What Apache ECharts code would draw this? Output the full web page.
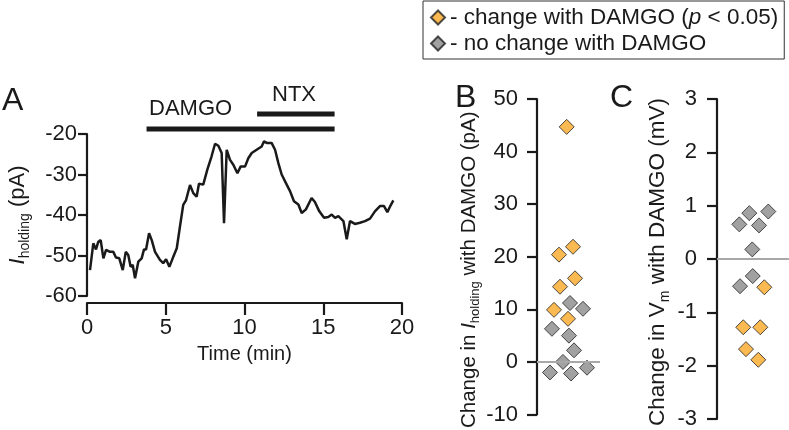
<!DOCTYPE html>
<html><head><meta charset="utf-8">
<script src="https://cdn.jsdelivr.net/npm/echarts@6/dist/echarts.min.js"></script>
<style>html,body{margin:0;padding:0;background:#fff}#c{width:789px;height:430px}</style>
</head><body><div id="c"></div>
<script>
// Panel A: holding current trace
const timeMin = [0.19,0.40,0.57,0.72,0.87,1.04,1.21,1.46,1.67,1.84,2.05,2.27,2.46,2.62,2.77,2.90,3.05,3.26,3.47,3.62,3.75,3.94,4.11,4.32,4.63,4.84,5.02,5.23,5.44,5.70,5.90,6.11,6.29,6.40,6.54,6.75,6.96,7.11,7.38,7.64,7.91,8.13,8.34,8.55,8.70,8.87,9.08,9.29,9.55,9.76,10.04,10.24,10.46,10.77,11.09,11.24,11.41,11.72,11.94,12.15,12.36,12.68,12.89,13.14,13.42,13.63,13.90,14.26,14.47,14.75,15.05,15.32,15.54,15.75,15.96,16.28,16.49,16.70,17.01,17.33,17.65,17.97,18.28,18.60,18.86,19.07,19.28,19.45];
const iHolding = [-53.6,-47.0,-48.5,-46.6,-46.2,-50.7,-48.6,-49.1,-49.1,-50.5,-50.7,-53.6,-49.1,-49.9,-52.8,-52.3,-55.6,-51.5,-50.7,-48.5,-48.5,-44.5,-46.2,-49.1,-51.1,-51.9,-50.9,-52.8,-50.7,-48.2,-42.9,-37.5,-36.3,-36.3,-32.6,-34.6,-35.5,-32.3,-32.5,-28.8,-25.5,-22.4,-22.9,-24.7,-42.0,-23.9,-26.4,-27.6,-29.7,-28.0,-28.0,-26.0,-24.7,-23.9,-23.1,-21.8,-22.2,-22.2,-23.9,-27.2,-30.0,-32.5,-34.1,-36.6,-37.4,-39.5,-38.6,-35.8,-36.8,-39.1,-40.7,-40.5,-39.9,-40.7,-40.3,-41.5,-46.0,-41.5,-42.2,-41.9,-41.5,-40.9,-39.1,-37.8,-37.8,-39.3,-37.6,-36.4];
const damgoPeriod = [3.78, 15.72];
const ntxPeriod = [10.8, 15.72];
const xTicksA = [0, 5, 10, 15, 20];
const yTicksA = [-60, -50, -40, -30, -20];

// Panel B: change in I_holding (pA); jitter = horizontal scatter offset
const bSigVal = [44.7, 20.4, 21.9, 14.3, 15.9, 9.9, 8.2];
const bSigJit = [-0.23, -1.21, 0.57, -1.08, 0.83, -1.84, -0.06];
const bNsVal = [11.2, 10.1, 6.3, 5.0, 2.2, 0.0, -2.0, -2.2, -1.1];
const bNsJit = [0.19, 1.84, -2.10, 0.06, 0.70, -0.70, -2.35, 0.32, 2.35];

// Panel C: change in Vm (mV)
const cSigVal = [-0.53, -1.28, -1.28, -1.69, -1.89];
const cSigJit = [1.26, -1.08, 0.81, -0.78, 0.59];
const cNsVal = [0.86, 0.89, 0.65, 0.63, 0.18, -0.32, -0.51];
const cNsJit = [-0.41, 1.70, -1.52, 0.67, -0.08, -0.03, -1.44];

const FONT = 'Liberation Sans, Arial, sans-serif';
const INK = '#1a1a1a';
const ORANGE = '#F9A825';
const GREY = '#8a8a8a';
const zip = (a, b) => a.map((v, i) => [v, b[i]]);

const chart = echarts.init(document.getElementById('c'), null, {renderer: 'canvas'});

const axisLine = {show: true, onZero: false, lineStyle: {color: INK, width: 2.2}};
const tick = (len) => ({show: true, length: len, lineStyle: {color: INK, width: 2.2}});
const lbl = (m) => ({margin: m, fontSize: 22, color: INK, fontFamily: FONT});
const nameStyle = (fs, sub, pad) => ({fontSize: fs, color: INK, fontFamily: FONT, lineHeight: fs + 6,
  padding: pad,
  rich: {
    i: {fontStyle: 'italic', fontSize: fs, lineHeight: fs + 6, fontFamily: FONT, color: INK},
    s: {fontSize: sub, lineHeight: sub, verticalAlign: 'bottom', fontFamily: FONT, color: INK}
  }});

const diamond = (color) => ({color: color, borderColor: '#222', borderWidth: 1});

const option = {
  animation: false,
  textStyle: {fontFamily: FONT},
  legend: {
    orient: 'vertical', left: 423, top: 1,
    padding: [5, 6, 4, 7], itemGap: 3, itemWidth: 14, itemHeight: 14,
    borderColor: '#333', borderWidth: 1,
    data: [{name: 'sig', icon: 'diamond'}, {name: 'ns', icon: 'diamond'}],
    formatter: (n) => n === 'sig' ? '- change with DAMGO ({i|p} < 0.05)' : '- no change with DAMGO',
    textStyle: {fontSize: 22.5, color: INK, fontFamily: FONT, lineHeight: 23,
      rich: {i: {fontStyle: 'italic', fontSize: 22.5, lineHeight: 23, fontFamily: FONT, color: INK}}},
    selectedMode: false
  },
  grid: [
    {left: 87, top: 134, width: 315, height: 162},
    {left: 87, top: 84, width: 315, height: 50},
    {left: 537, top: 99, width: 63, height: 320},
    {left: 717, top: 99, width: 72, height: 320}
  ],
  xAxis: [
    {gridIndex: 0, type: 'value', min: 0, max: 20, interval: 5, offset: 7,
     axisLine: axisLine, axisTick: tick(12), axisLabel: lbl(14), splitLine: {show: false},
     name: 'Time (min)', nameLocation: 'middle', nameGap: 41,
     nameTextStyle: {fontSize: 20, color: INK, fontFamily: FONT}},
    {gridIndex: 1, type: 'value', min: 0, max: 20, show: false},
    {gridIndex: 2, type: 'value', min: -4, max: 4, show: false},
    {gridIndex: 3, type: 'value', min: -4, max: 4, show: false}
  ],
  yAxis: [
    {gridIndex: 0, type: 'value', min: -60, max: -20, interval: 10,
     axisLine: axisLine, axisTick: tick(9), axisLabel: lbl(10), splitLine: {show: false},
     name: '{i|I}{s|holding} (pA)', nameLocation: 'middle', nameGap: 55, nameTextStyle: nameStyle(22, 14, 0)},
    {gridIndex: 1, type: 'value', min: 0, max: 10, show: false},
    {gridIndex: 2, type: 'value', min: -10, max: 50, interval: 10,
     axisLine: axisLine, axisTick: tick(10), axisLabel: lbl(19), splitLine: {show: false},
     name: 'Change in {i|I}{s|holding} with DAMGO (pA)', nameLocation: 'middle', nameGap: 50,
     nameTextStyle: nameStyle(20.5, 13, [0, 26, 0, 0])},
    {gridIndex: 3, type: 'value', min: -3, max: 3, interval: 1,
     axisLine: axisLine, axisTick: tick(10), axisLabel: lbl(20), splitLine: {show: false},
     name: 'Change in V{s|m} with DAMGO (mV)', nameLocation: 'middle', nameGap: 45,
     nameTextStyle: nameStyle(22.5, 14, [0, 6, 0, 0])}
  ],
  series: [
    {type: 'line', xAxisIndex: 0, yAxisIndex: 0, data: zip(timeMin, iHolding),
     showSymbol: false, symbol: 'none', lineStyle: {color: INK, width: 2.5}, silent: true},
    {type: 'line', xAxisIndex: 1, yAxisIndex: 1, data: [[damgoPeriod[0], 1], [damgoPeriod[1], 1]],
     symbol: 'none', lineStyle: {color: INK, width: 5, cap: 'butt'}, silent: true},
    {type: 'line', xAxisIndex: 1, yAxisIndex: 1, data: [[ntxPeriod[0], 4], [ntxPeriod[1], 4]],
     symbol: 'none', lineStyle: {color: INK, width: 5, cap: 'butt'}, silent: true},
    {name: 'ns', type: 'scatter', xAxisIndex: 2, yAxisIndex: 2, data: zip(bNsJit, bNsVal),
     symbol: 'diamond', symbolSize: 15, itemStyle: diamond(GREY), z: 3,
     markLine: {silent: true, symbol: 'none', label: {show: false}, lineStyle: {color: '#a8a8a8', width: 2, type: 'solid'},
       data: [{yAxis: 0}]}},
    {name: 'sig', type: 'scatter', xAxisIndex: 2, yAxisIndex: 2, data: zip(bSigJit, bSigVal),
     symbol: 'diamond', symbolSize: 15, itemStyle: diamond(ORANGE), z: 4},
    {name: 'ns', type: 'scatter', xAxisIndex: 3, yAxisIndex: 3, data: zip(cNsJit, cNsVal),
     symbol: 'diamond', symbolSize: 15, itemStyle: diamond(GREY), z: 3,
     markLine: {silent: true, symbol: 'none', label: {show: false}, lineStyle: {color: '#a8a8a8', width: 2, type: 'solid'},
       data: [{yAxis: 0}]}},
    {name: 'sig', type: 'scatter', xAxisIndex: 3, yAxisIndex: 3, data: zip(cSigJit, cSigVal),
     symbol: 'diamond', symbolSize: 15, itemStyle: diamond(ORANGE), z: 4}
  ],
  graphic: [
    {type: 'text', left: 2, top: 85, style: {text: 'A', fontSize: 32, fill: INK, fontFamily: FONT}},
    {type: 'text', left: 455, top: 82, style: {text: 'B', fontSize: 32, fill: INK, fontFamily: FONT}},
    {type: 'text', left: 610, top: 82, style: {text: 'C', fontSize: 32, fill: INK, fontFamily: FONT}},
    {type: 'text', left: 149, top: 98, style: {text: 'DAMGO', fontSize: 22, fill: INK, fontFamily: FONT}},
    {type: 'text', left: 272, top: 84, style: {text: 'NTX', fontSize: 22, fill: INK, fontFamily: FONT}}
  ]
};
chart.setOption(option);
</script>
</body></html>
